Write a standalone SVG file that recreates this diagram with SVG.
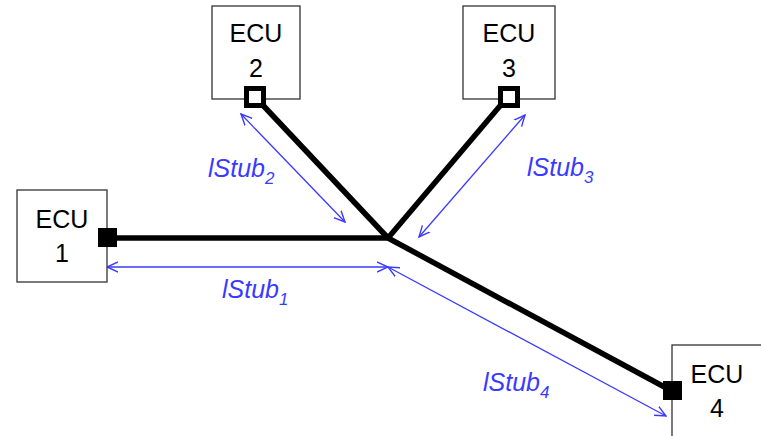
<svg xmlns="http://www.w3.org/2000/svg" width="761" height="436" viewBox="0 0 761 436">
<defs>
<marker id="arr" viewBox="0 0 12 12" refX="11" refY="6" markerWidth="12" markerHeight="12" markerUnits="userSpaceOnUse" orient="auto-start-reverse">
<path d="M0,1 L11,6 L0,11" fill="none" stroke="#3a3aff" stroke-width="1.4"/>
</marker>
</defs>
<style>
.box{fill:#fff;stroke:#333;stroke-width:1.3}
.lbl{font-family:"Liberation Sans",Arial,sans-serif;font-size:25px;fill:#000;text-anchor:middle}
.bus{stroke:#000;stroke-width:5.5;fill:none;stroke-linecap:butt}
.dim{stroke:#3a3aff;stroke-width:1.3;fill:none;marker-start:url(#arr);marker-end:url(#arr)}
.dl{font-family:"Liberation Sans",Arial,sans-serif;font-style:italic;font-size:25px;fill:#3a3aff}
.sub{font-size:17px}
</style>
<g id="connectors">
<path class="bus" d="M107,238 L388,238"/>
<path class="bus" d="M258,100 L388,238"/>
<path class="bus" d="M505,100 L388,238"/>
<path class="bus" d="M388,238 L670,390"/>
<path class="dim" d="M107,267 L388,267"/>
<path class="dim" d="M388,267 L666,416"/>
<path class="dim" d="M241,114 L345,222"/>
<path class="dim" d="M525,115 L419,237"/>
</g>
<g id="ecu1">
<rect class="box" x="17" y="190" width="90" height="92"/>
<text class="lbl" x="62" y="228">ECU</text>
<text class="lbl" x="62" y="262">1</text>
<rect x="98" y="228" width="19" height="19" fill="#000"/>
</g>
<g id="ecu2">
<rect class="box" x="212" y="6" width="88" height="93"/>
<text class="lbl" x="256" y="42">ECU</text>
<text class="lbl" x="256" y="77">2</text>
<rect x="246.5" y="88.5" width="17" height="17" fill="#fff" stroke="#000" stroke-width="5"/>
</g>
<g id="ecu3">
<rect class="box" x="463" y="6" width="92" height="93"/>
<text class="lbl" x="509" y="42">ECU</text>
<text class="lbl" x="509" y="77">3</text>
<rect x="500.5" y="88.5" width="17" height="17" fill="#fff" stroke="#000" stroke-width="5"/>
</g>
<g id="ecu4">
<rect class="box" x="672" y="345" width="95" height="100"/>
<text class="lbl" x="717" y="383">ECU</text>
<text class="lbl" x="717" y="417">4</text>
<rect x="663" y="381" width="19" height="19" fill="#000"/>
</g>
<g id="labels">
<text class="dl" x="222" y="298">lStub<tspan class="sub" dy="7">1</tspan></text>
<text class="dl" x="208" y="177">lStub<tspan class="sub" dy="7">2</tspan></text>
<text class="dl" x="527" y="176">lStub<tspan class="sub" dy="7">3</tspan></text>
<text class="dl" x="483" y="391">lStub<tspan class="sub" dy="7">4</tspan></text>
</g>
</svg>
